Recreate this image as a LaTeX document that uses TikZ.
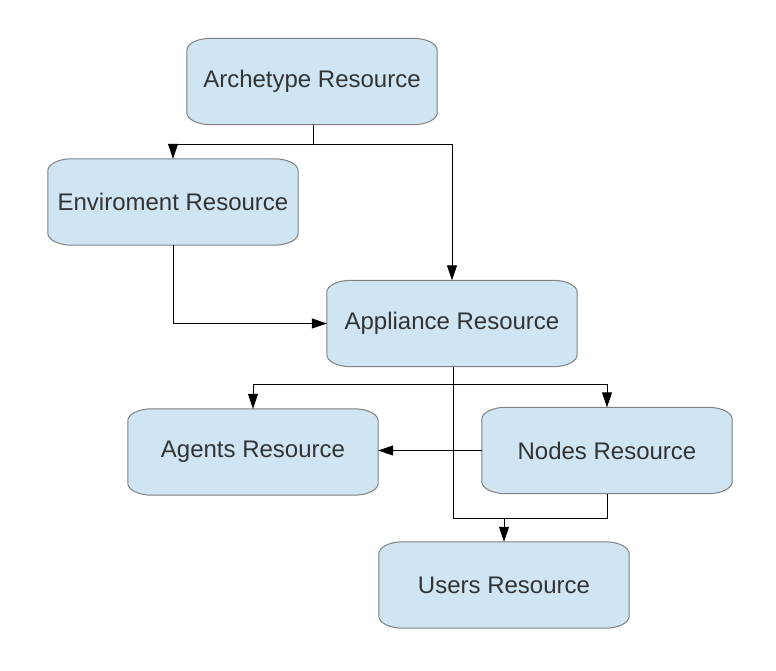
\documentclass[tikz,border=0pt]{standalone}
\usepackage{fontspec}
\setmainfont{Liberation Sans}
\usetikzlibrary{arrows.meta,backgrounds}
\definecolor{boxfill}{HTML}{CFE5F3}
\definecolor{boxline}{HTML}{808080}
\definecolor{txt}{HTML}{333333}
\tikzset{
  x=1pt, y=1pt,
  res/.style={minimum width=250pt, minimum height=86pt, inner sep=0pt,
    text=txt, font=\fontsize{24}{28}\selectfont},
  shell/.style={fill=boxfill, draw=boxline, line width=1pt},
  conn/.style={draw=black, line width=1pt, -{Triangle[length=15pt,width=10pt]}},
  plain/.style={draw=black, line width=1pt}
}
\newcommand\resshape[1]{%
  \path[shell] ([xshift=24pt]#1.north west) -- ([xshift=-24pt]#1.north east)
    arc[start angle=90,end angle=0,x radius=24pt,y radius=12pt]
    -- ([yshift=12pt]#1.south east)
    arc[start angle=0,end angle=-90,x radius=24pt,y radius=12pt]
    -- ([xshift=24pt]#1.south west)
    arc[start angle=270,end angle=180,x radius=24pt,y radius=12pt]
    -- ([yshift=-12pt]#1.north west)
    arc[start angle=180,end angle=90,x radius=24pt,y radius=12pt]
    -- cycle;}
\begin{document}
\begin{tikzpicture}
\useasboundingbox (0,0) rectangle (776,-670);
\node[res] (arch) at (312,-81.5) {Archetype Resource};
\node[res] (env)  at (173,-202) {Enviroment Resource};
\node[res] (app)  at (452,-323.5) {Appliance Resource};
\node[res] (agt)  at (253,-452) {Agents Resource};
\node[res] (nod)  at (607,-450.5) {Nodes Resource};
\node[res] (usr)  at (504,-585) {Users Resource};
\begin{pgfonlayer}{background}
\foreach \n in {arch,env,app,agt,nod,usr}{\resshape{\n}}
\end{pgfonlayer}
\coordinate (j1) at (313,-144);
\coordinate (j2) at (453,-384);
\coordinate (j3) at (504,-518);
\draw[plain] (arch.south -| j1) -- (j1);
\draw[conn] (j1) -| (env.north);
\draw[conn] (j1) -| (app.north);
\draw[conn] (env.south) |- (app.west);
\draw[plain] (app.south -| j2) -- (j2);
\draw[conn] (j2) -| (agt.north);
\draw[conn] (j2) -| (nod.north);
\draw[conn] (nod.west) -- (agt.east |- nod.west);
\draw[plain] (app.south -| j2) |- (j3);
\draw[plain] (nod.south) |- (j3);
\draw[conn] (j3) -- (usr.north -| j3);
\end{tikzpicture}
\end{document}
